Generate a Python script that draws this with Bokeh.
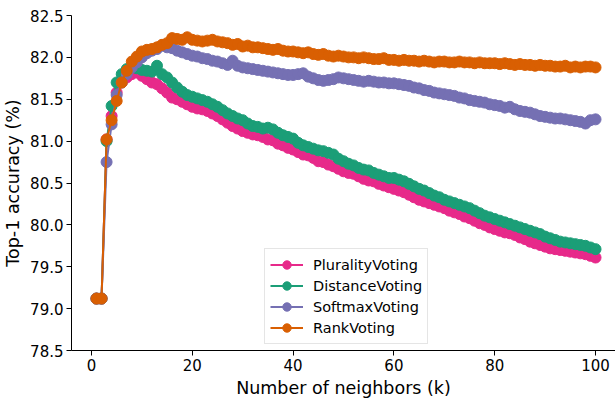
from bokeh.plotting import figure
from bokeh.models import (Range1d, FixedTicker, PrintfTickFormatter, Legend, LegendItem,
                          ColumnDataSource)
from bokeh.embed import file_html
from bokeh.resources import INLINE

# Top-1 accuracy (%) for k = 1..100 neighbours, per voting rule
k = list(range(1, 101))

plurality = [
    79.12, 79.12, 81.02, 81.30, 81.58, 81.70, 81.76, 81.80, 81.82, 81.78,
    81.74, 81.70, 81.68, 81.63, 81.58, 81.52, 81.50, 81.47, 81.44, 81.41,
    81.39, 81.38, 81.36, 81.33, 81.30, 81.26, 81.22, 81.18, 81.15, 81.12,
    81.10, 81.08, 81.07, 81.05, 81.02, 81.01, 80.97, 80.95, 80.92, 80.90,
    80.87, 80.84, 80.83, 80.80, 80.76, 80.75, 80.72, 80.70, 80.67, 80.64,
    80.62, 80.61, 80.58, 80.55, 80.53, 80.52, 80.49, 80.47, 80.45, 80.43,
    80.41, 80.39, 80.36, 80.33, 80.30, 80.28, 80.26, 80.24, 80.22, 80.20,
    80.17, 80.15, 80.13, 80.10, 80.08, 80.05, 80.02, 80.00, 79.97, 79.95,
    79.93, 79.91, 79.90, 79.88, 79.85, 79.83, 79.80, 79.78, 79.76, 79.74,
    79.72, 79.71, 79.70, 79.69, 79.68, 79.67, 79.66, 79.65, 79.63, 79.61,
]

distance = [
    79.12, 79.12, 81.00, 81.42, 81.70, 81.80, 81.86, 81.88, 81.87, 81.85,
    81.84, 81.83, 81.90, 81.80, 81.76, 81.70, 81.64, 81.59, 81.55, 81.53,
    81.51, 81.49, 81.47, 81.44, 81.41, 81.37, 81.33, 81.30, 81.27, 81.25,
    81.21, 81.18, 81.17, 81.15, 81.16, 81.14, 81.10, 81.07, 81.05, 81.03,
    80.98, 80.95, 80.93, 80.91, 80.89, 80.88, 80.86, 80.84, 80.79, 80.76,
    80.73, 80.71, 80.68, 80.66, 80.65, 80.62, 80.60, 80.58, 80.56, 80.56,
    80.54, 80.52, 80.49, 80.46, 80.43, 80.41, 80.38, 80.35, 80.33, 80.30,
    80.28, 80.26, 80.24, 80.22, 80.20, 80.17, 80.14, 80.11, 80.09, 80.07,
    80.05, 80.03, 80.01, 79.99, 79.97, 79.95, 79.93, 79.91, 79.89, 79.86,
    79.84, 79.82, 79.80, 79.79, 79.78, 79.77, 79.76, 79.75, 79.73, 79.71,
]

softmax = [
    79.12, 79.12, 80.75, 81.20, 81.55, 81.70, 81.80, 81.88, 81.94, 82.00,
    82.05, 82.08, 82.10, 82.14, 82.12, 82.11, 82.08, 82.06, 82.04, 82.02,
    82.01, 81.99, 81.98, 81.96, 81.95, 81.93, 81.91, 81.96, 81.90, 81.88,
    81.87, 81.86, 81.85, 81.84, 81.83, 81.82, 81.81, 81.80, 81.79, 81.79,
    81.80, 81.81, 81.77, 81.75, 81.73, 81.72, 81.73, 81.74, 81.76, 81.75,
    81.74, 81.73, 81.72, 81.71, 81.72, 81.71, 81.70, 81.70, 81.69, 81.69,
    81.68, 81.67, 81.66, 81.64, 81.63, 81.61, 81.60, 81.58, 81.57, 81.56,
    81.55, 81.54, 81.52, 81.51, 81.49, 81.48, 81.47, 81.46, 81.44, 81.43,
    81.42, 81.40, 81.41, 81.38, 81.36, 81.35, 81.34, 81.32, 81.30, 81.29,
    81.28, 81.27, 81.27, 81.26, 81.25, 81.24, 81.23, 81.21, 81.25, 81.26,
]

rank = [
    79.12, 79.12, 81.02, 81.25, 81.48, 81.70, 81.84, 81.95, 82.01, 82.07,
    82.09, 82.10, 82.12, 82.15, 82.17, 82.23, 82.22, 82.21, 82.24, 82.21,
    82.20, 82.19, 82.20, 82.21, 82.19, 82.18, 82.17, 82.15, 82.16, 82.13,
    82.14, 82.12, 82.12, 82.11, 82.10, 82.09, 82.10, 82.08, 82.07, 82.07,
    82.06, 82.05, 82.06, 82.04, 82.03, 82.04, 82.02, 82.01, 82.02, 82.01,
    82.00, 82.00, 81.99, 82.00, 81.99, 81.98, 81.98, 81.99, 81.97, 81.97,
    81.96, 81.97, 81.96, 81.96, 81.95, 81.96, 81.95, 81.94, 81.95, 81.95,
    81.94, 81.94, 81.95, 81.94, 81.94, 81.93, 81.94, 81.93, 81.93, 81.93,
    81.92, 81.93, 81.92, 81.91, 81.92, 81.91, 81.91, 81.90, 81.91, 81.90,
    81.90, 81.89, 81.89, 81.90, 81.88, 81.89, 81.88, 81.89, 81.89, 81.88,
]

series_names = ["PluralityVoting", "DistanceVoting", "SoftmaxVoting", "RankVoting"]
series_values = [plurality, distance, softmax, rank]
series_colors = ["#e7298a", "#1b9e77", "#7570b3", "#d95f02"]

y_ticks = [78.5, 79.0, 79.5, 80.0, 80.5, 81.0, 81.5, 82.0, 82.5]
x_ticks = [0, 20, 40, 60, 80, 100]

FONT = "DejaVu Sans"

p = figure(width=615, height=401, output_backend="svg", toolbar_location=None,
           x_range=Range1d(-3.96, 103.96), y_range=Range1d(78.5, 82.5),
           min_border_left=70, min_border_right=0, min_border_top=15, min_border_bottom=51)
p.outline_line_color = None
p.xgrid.visible = False
p.ygrid.visible = False
p.background_fill_color = "white"
p.border_fill_color = "white"

items = []
for name, vals, color in zip(series_names, series_values, series_colors):
    src = ColumnDataSource(dict(k=k, acc=vals))
    ln = p.line("k", "acc", source=src, line_color=color, line_width=2)
    sc = p.scatter("k", "acc", source=src, size=11, fill_color=color, line_color=color)
    items.append(LegendItem(label=name, renderers=[ln, sc]))

for ax in (p.xaxis[0], p.yaxis[0]):
    ax.axis_line_color = "black"
    ax.axis_line_width = 1
    ax.major_tick_line_color = "black"
    ax.major_tick_in = 0
    ax.major_tick_out = 5
    ax.minor_tick_line_color = None
    ax.major_label_text_font = FONT
    ax.major_label_text_font_size = "15px"
    ax.major_label_text_color = "black"
    ax.axis_label_text_font = FONT
    ax.axis_label_text_font_size = "17.5px"
    ax.axis_label_text_font_style = "normal"
    ax.axis_label_text_color = "black"
    ax.major_label_standoff = 3
    ax.axis_label_standoff = 4

p.xaxis.ticker = FixedTicker(ticks=x_ticks)
p.yaxis.ticker = FixedTicker(ticks=y_ticks)
p.yaxis.formatter = PrintfTickFormatter(format="%.1f")
p.xaxis.axis_label = "Number of neighbors (k)"
p.yaxis.axis_label = "Top-1 accuracy (%)"

legend = Legend(items=items, location=(193, 6))
legend.label_text_font = FONT
legend.label_text_font_size = "14.5px"
legend.label_text_color = "black"
legend.glyph_width = 33
legend.glyph_height = 21
legend.label_height = 21
legend.label_standoff = 10
legend.spacing = 0
legend.padding = 5
legend.margin = 0
legend.border_line_color = "#cccccc"
legend.border_line_width = 1
legend.background_fill_color = "white"
legend.background_fill_alpha = 0.8
p.add_layout(legend)

open("out.html", "w").write(file_html(p, INLINE))
